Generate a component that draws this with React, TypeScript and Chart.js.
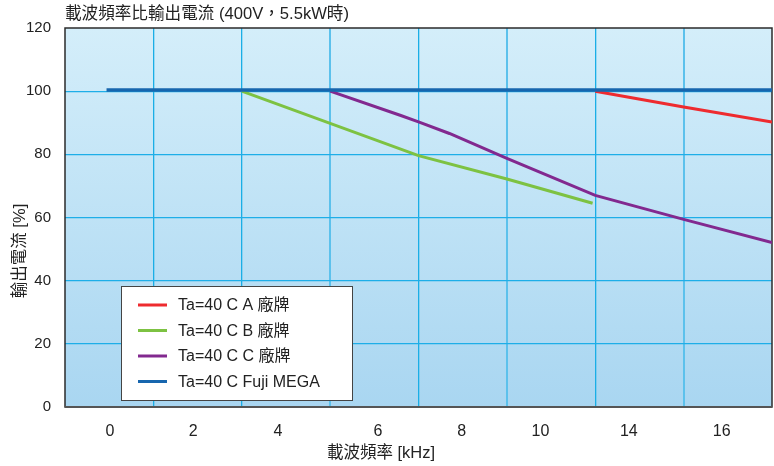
import React, { useEffect, useRef } from "react";
import { Chart, registerables } from "chart.js";

Chart.register(...registerables);

// x-axis: 8 equal cells (grid lines at integers); kHz labels and where they sit on the cell axis
const xTickLabels = ["0", "2", "4", "6", "8", "10", "14", "16"];
const xTickPos = [0.51, 1.45, 2.41, 3.54, 4.49, 5.38, 6.38, 7.43];
const yTicks = [0, 20, 40, 60, 80, 100, 120];

// series: positions on the cell axis and output current [%]
const fujiPos = [0.47, 8];
const fujiVal = [100.4, 100.4];
const aPos = [6, 7, 8];
const aVal = [100, 95, 90.2];
const bPos = [2, 4, 5, 5.97];
const bVal = [100, 79.6, 72.2, 64.5];
const cPos = [3, 3.8, 4, 4.35, 5, 6, 7, 8];
const cVal = [100, 92.3, 90.3, 86.6, 78.7, 67, 59.4, 52.1];

const legendLabels = ["Ta=40 C A 廠牌", "Ta=40 C B 廠牌", "Ta=40 C C 廠牌", "Ta=40 C Fuji MEGA"];
const colors = ["#ee2b2f", "#7dc242", "#82298f", "#1766ae"];

const title = "載波頻率比輸出電流 (400V，5.5kW時)";
const xTitle = "載波頻率 [kHz]";
const yTitle = "輸出電流 [%]";

const FONT = "'Liberation Sans', Arial, 'Noto Sans CJK TC', sans-serif";

const toPts = (xs: number[], ys: number[]) => xs.map((x, i) => ({ x, y: ys[i] }));

export default function App() {
  const ref = useRef<HTMLCanvasElement | null>(null);
  useEffect(() => {
    document.body.style.margin = "0";
    const canvas = ref.current!;
    const decor = {
      id: "decor",
      beforeDraw(chart: any) {
        const { ctx, chartArea: a } = chart;
        const g = ctx.createLinearGradient(0, a.top, 0, a.bottom);
        g.addColorStop(0, "#d4eefa");
        g.addColorStop(1, "#a9d6f1");
        ctx.save();
        ctx.fillStyle = g;
        ctx.fillRect(a.left, a.top, a.right - a.left, a.bottom - a.top);
        ctx.restore();
      },
      beforeDatasetsDraw(chart: any) {
        const { ctx, chartArea: a } = chart;
        ctx.save();
        ctx.strokeStyle = "#2b2b2b";
        ctx.lineWidth = 1.5;
        ctx.strokeRect(a.left, a.top, a.right - a.left, a.bottom - a.top);
        ctx.strokeStyle = "#555";
        ctx.lineWidth = 2;
        ctx.beginPath();
        ctx.moveTo(a.left, a.bottom);
        ctx.lineTo(a.right, a.bottom);
        ctx.stroke();
        ctx.restore();
      },
      afterDraw(chart: any) {
        const { ctx } = chart;
        ctx.save();
        ctx.fillStyle = "#222";
        ctx.textBaseline = "middle";
        ctx.textAlign = "left";
        ctx.font = `16.6px ${FONT}`;
        ctx.fillText(title, 65, 14);
        ctx.textAlign = "center";
        ctx.font = `16.5px ${FONT}`;
        ctx.fillText(xTitle, 381, 453);
        ctx.save();
        ctx.translate(20, 251);
        ctx.rotate(-Math.PI / 2);
        ctx.fillText(yTitle, 0, 0);
        ctx.restore();
        // legend
        ctx.font = `16px ${FONT}`;
        ctx.fillStyle = "#ffffff";
        ctx.fillRect(121.5, 286.5, 231, 114);
        ctx.strokeStyle = "#444";
        ctx.lineWidth = 1;
        ctx.strokeRect(121.5, 286.5, 231, 114);
        ctx.textAlign = "left";
        legendLabels.forEach((lab, i) => {
          const y = 305 + i * 25.5;
          ctx.strokeStyle = colors[i];
          ctx.lineWidth = 3;
          ctx.beginPath();
          ctx.moveTo(138, y);
          ctx.lineTo(167, y);
          ctx.stroke();
          ctx.fillStyle = "#222";
          ctx.fillText(lab, 178, y + 1);
        });
        ctx.restore();
      },
    };
    const mk = (label: string, xs: number[], ys: number[], i: number, width: number, order: number) => ({
      label,
      data: toPts(xs, ys),
      borderColor: colors[i],
      backgroundColor: colors[i],
      borderWidth: width,
      pointRadius: 0,
      tension: 0,
      fill: false,
      order,
    });
    const chart = new Chart(canvas, {
      type: "line",
      data: {
        datasets: [
          mk(legendLabels[0], aPos, aVal, 0, 3, 2),
          mk(legendLabels[1], bPos, bVal, 1, 3, 2),
          mk(legendLabels[2], cPos, cVal, 2, 3, 2),
          mk(legendLabels[3], fujiPos, fujiVal, 3, 3.5, 0),
        ],
      },
      options: {
        animation: false,
        responsive: false,
        devicePixelRatio: 1,
        layout: { padding: { top: 28, right: 2, left: 0, bottom: 0 } },
        plugins: { legend: { display: false }, tooltip: { enabled: false } },
        scales: {
          x: {
            type: "linear",
            min: 0,
            max: 8,
            afterFit: (s: any) => { s.height = 59; s.paddingLeft = 0; s.paddingRight = 0; },
            afterBuildTicks: (s: any) => {
              const vals: number[] = [];
              for (let i = 0; i <= 8; i++) vals.push(i);
              xTickPos.forEach((p) => vals.push(p));
              vals.sort((a, b) => a - b);
              s.ticks = vals.map((v) => ({ value: v }));
            },
            ticks: {
              autoSkip: false,
              maxRotation: 0,
              padding: 15,
              color: "#222",
              font: { size: 16, family: FONT },
              callback: (v: any) => {
                const k = xTickPos.indexOf(Number(v));
                return k >= 0 ? xTickLabels[k] : "";
              },
            },
            grid: {
              drawTicks: false,
              color: (c: any) => {
                const v = c.tick ? c.tick.value : 0;
                if (!Number.isInteger(v) || v === 0 || v === 8) return "rgba(0,0,0,0)";
                return v % 2 === 1 && v > 1 ? "#5cc1ec" : "#1aaee6";
              },
              lineWidth: (c: any) => {
                const v = c.tick ? c.tick.value : 0;
                return v % 2 === 1 && v > 1 ? 2 : 1.3;
              },
            },
            border: { display: false },
          },
          y: {
            min: 0,
            max: 120,
            afterFit: (s: any) => { s.width = 65; s.paddingTop = 0; s.paddingBottom = 0; },
            afterBuildTicks: (s: any) => { s.ticks = yTicks.map((v) => ({ value: v })); },
            ticks: {
              padding: 14,
              color: "#222",
              font: { size: 15, family: FONT },
            },
            grid: {
              drawTicks: false,
              color: (c: any) => {
                const v = c.tick ? c.tick.value : 0;
                return v === 0 || v === 120 ? "rgba(0,0,0,0)" : "#1eaee8";
              },
              lineWidth: 1.3,
            },
            border: { display: false },
          },
        },
      },
      plugins: [decor],
    } as any);
    return () => chart.destroy();
  }, []);
  return (
    <div style={{ position: "fixed", left: 0, top: 0, width: 774, height: 466, background: "#fff" }}>
      <canvas ref={ref} width={774} height={466} style={{ width: 774, height: 466, display: "block" }} />
    </div>
  );
}
